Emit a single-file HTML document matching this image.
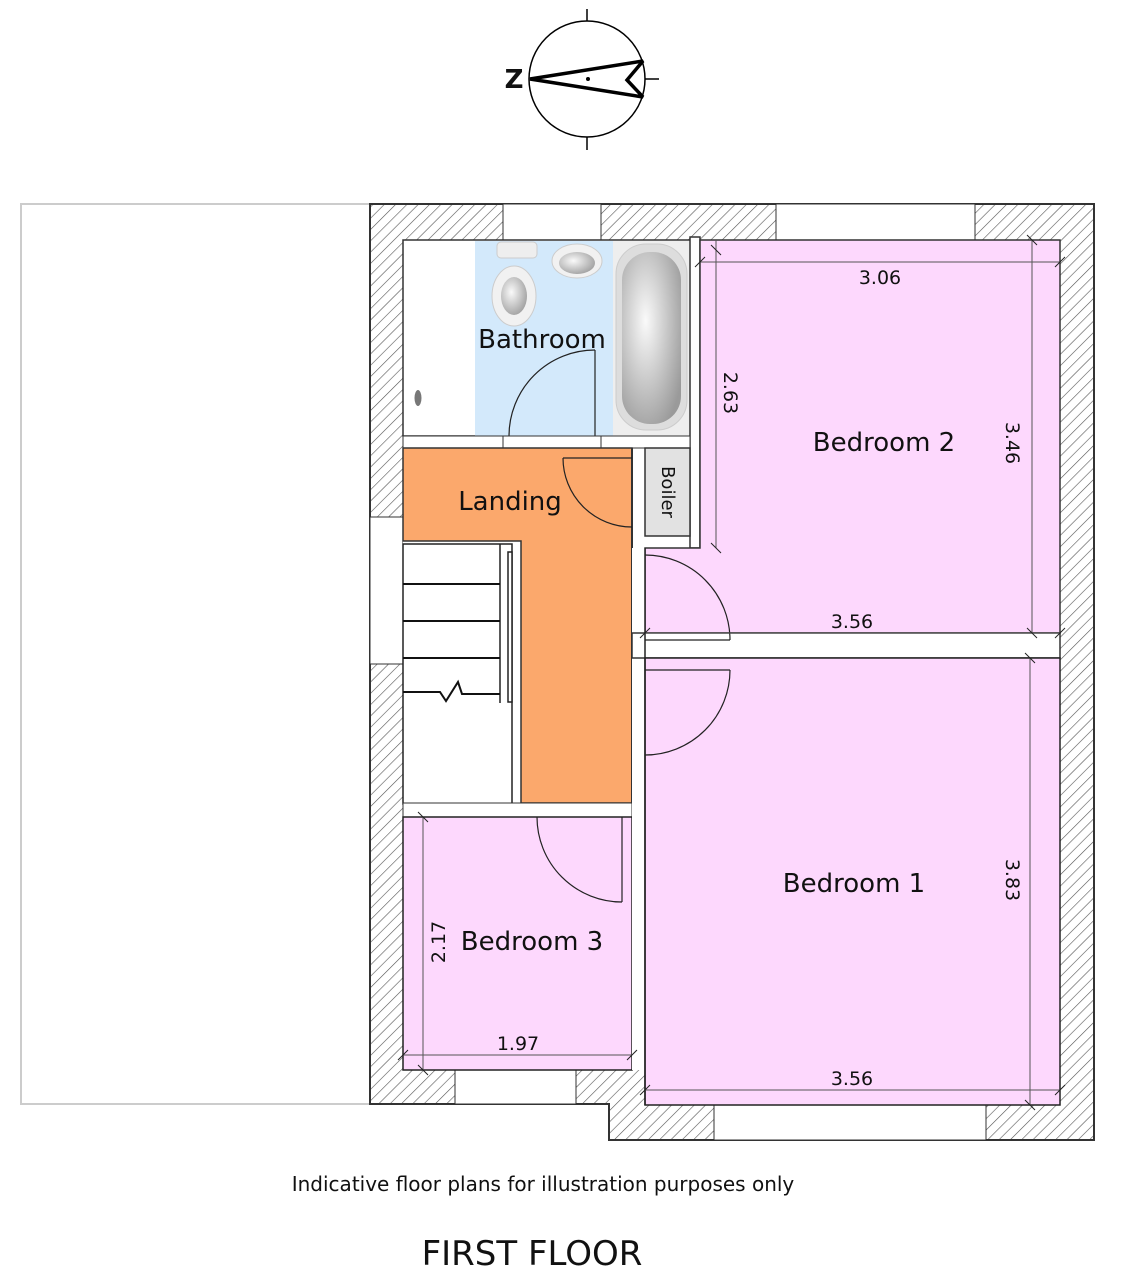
<!DOCTYPE html>
<html><head><meta charset="utf-8"><style>
html,body{margin:0;padding:0;background:#fff;}
svg{display:block;}
text{font-family:"DejaVu Sans","Liberation Sans",sans-serif;fill:#111;}
</style></head><body>
<svg width="1127" height="1280" viewBox="0 0 1127 1280" xmlns="http://www.w3.org/2000/svg">
<defs>
<pattern id="h" patternUnits="userSpaceOnUse" width="8" height="8" patternTransform="rotate(45)">
<rect width="8" height="8" fill="#fff"/><line x1="0" y1="0" x2="0" y2="8" stroke="#555" stroke-width="1.2"/>
</pattern>
<radialGradient id="bath" cx="0.4" cy="0.4" r="0.7"><stop offset="0" stop-color="#fafafa"/><stop offset="1" stop-color="#9a9a9a"/></radialGradient>
</defs>

<!-- compass -->
<circle cx="587" cy="79" r="58" fill="none" stroke="#000" stroke-width="1.5"/>
<line x1="587" y1="9" x2="587" y2="21" stroke="#000" stroke-width="1.5"/>
<line x1="587" y1="137" x2="587" y2="150" stroke="#000" stroke-width="1.5"/>
<line x1="645" y1="79" x2="659" y2="79" stroke="#000" stroke-width="1.5"/>
<polygon points="530,79 643,61 627,80 643,97" fill="none" stroke="#000" stroke-width="3.5" stroke-linejoin="miter" stroke-miterlimit="2"/>
<circle cx="588" cy="79" r="2" fill="#000"/>
<text x="514" y="88" font-size="26" font-weight="bold" text-anchor="middle">Z</text>

<!-- left ghost box -->
<rect x="21" y="204" width="349" height="900" fill="#fff" stroke="#ccc" stroke-width="2"/>

<!-- outer walls hatched -->
<path d="M370,204 H1094 V1140 H609 V1104 H370 Z" fill="url(#h)" stroke="#333" stroke-width="2"/>
<rect x="503" y="204" width="98" height="36" fill="#fff" stroke="#333" stroke-width="1"/>
<rect x="776" y="204" width="199" height="36" fill="#fff" stroke="#333" stroke-width="1"/>
<rect x="370" y="517" width="33" height="147" fill="#fff" stroke="#333" stroke-width="1"/>
<rect x="455" y="1070" width="121" height="34" fill="#fff" stroke="#333" stroke-width="1"/>
<rect x="714" y="1105" width="272" height="35" fill="#fff" stroke="#333" stroke-width="1"/>

<rect x="403" y="240" width="657" height="830" fill="#fff"/>
<rect x="645" y="1070" width="415" height="35" fill="#fff"/>

<!-- bathroom -->
<rect x="403" y="240" width="287" height="196" fill="#fff" stroke="#333" stroke-width="1.5"/>
<rect x="475" y="241" width="138" height="195" fill="#d3e9fb"/>
<rect x="613" y="241" width="77" height="195" fill="#eeeeee"/>
<rect x="406" y="243" width="68" height="190" fill="#fff"/>
<ellipse cx="418" cy="398" rx="3.5" ry="8" fill="#777"/>
<rect x="497" y="242" width="40" height="16" rx="4" fill="#eee" stroke="#ccc"/>
<ellipse cx="514" cy="296" rx="22" ry="30" fill="#f1f1f1" stroke="#ccc"/>
<ellipse cx="514" cy="296" rx="13" ry="19" fill="url(#bath)"/>
<ellipse cx="577" cy="261" rx="25" ry="17" fill="#f1f1f1" stroke="#ccc"/>
<ellipse cx="577" cy="263" rx="18" ry="11" fill="url(#bath)"/>
<rect x="616" y="244" width="71" height="186" rx="30" fill="#ddd" stroke="#ccc"/>
<rect x="622" y="252" width="59" height="172" rx="28" fill="url(#bath)"/>
<line x1="595" y1="436" x2="595" y2="350" stroke="#222" stroke-width="1.2"/>
<path d="M595,350 A86,86 0 0 0 509,436" fill="none" stroke="#222" stroke-width="1.2"/>

<rect x="690" y="237" width="10" height="311" fill="#fff" stroke="#333" stroke-width="1.5"/>
<rect x="403" y="436" width="287" height="12" fill="#fff" stroke="#333" stroke-width="1"/>
<line x1="503" y1="436" x2="503" y2="448" stroke="#333"/><line x1="601" y1="436" x2="601" y2="448" stroke="#333"/>

<!-- bedroom 2 -->
<path d="M700,240 H1060 V633 H645 V548 H700 Z" fill="#fdd8fd" stroke="#333" stroke-width="1.5"/>
<rect x="645" y="448" width="45" height="88" fill="#e2e2e2" stroke="#333" stroke-width="1.5"/>
<text x="667" y="492" font-size="18" text-anchor="middle" transform="rotate(90 667 492)" dominant-baseline="middle">Boiler</text>

<!-- landing -->
<path d="M403,448 H632 V803 H521 V541 H403 Z" fill="#fba86c" stroke="#333" stroke-width="1.5"/>
<line x1="632" y1="448" x2="632" y2="803" stroke="#333" stroke-width="2"/>
<path d="M563,458 H632" fill="none" stroke="#222" stroke-width="1.2"/>
<path d="M563,458 A69,69 0 0 0 632,527" fill="none" stroke="#222" stroke-width="1.2"/>

<!-- stairs -->
<rect x="403" y="544" width="109" height="260" fill="#fff" stroke="#222" stroke-width="1.5"/>
<line x1="500" y1="544" x2="500" y2="703" stroke="#222" stroke-width="1.5"/>
<line x1="403" y1="584" x2="500" y2="584" stroke="#111" stroke-width="2"/>
<line x1="403" y1="621" x2="500" y2="621" stroke="#111" stroke-width="2"/>
<line x1="403" y1="658" x2="500" y2="658" stroke="#111" stroke-width="2"/>
<polyline points="403,692 440,692 446,701 458,682 462,694 500,694" fill="none" stroke="#111" stroke-width="2"/>
<rect x="508" y="552" width="4" height="150" fill="#fff" stroke="#222" stroke-width="1.5"/>

<rect x="403" y="803" width="229" height="14" fill="#fff" stroke="#333" stroke-width="1"/>

<!-- bedroom 3 -->
<rect x="403" y="817" width="229" height="253" fill="#fdd8fd" stroke="#222" stroke-width="1.5"/>
<line x1="622" y1="817" x2="622" y2="902" stroke="#222" stroke-width="1.2"/>
<path d="M537,817 A85,85 0 0 0 622,902" fill="none" stroke="#222" stroke-width="1.2"/>

<rect x="632" y="548" width="13" height="522" fill="#fff"/>
<rect x="632" y="633" width="428" height="25" fill="#fff" stroke="#333" stroke-width="1.5"/>

<!-- bedroom 1 -->
<rect x="645" y="658" width="415" height="447" fill="#fdd8fd" stroke="#222" stroke-width="1.5"/>
<line x1="645" y1="548" x2="645" y2="1105" stroke="#222" stroke-width="1.5"/>
<line x1="645" y1="640" x2="730" y2="640" stroke="#222" stroke-width="1.2"/>
<path d="M730,640 A85,85 0 0 0 645,555" fill="none" stroke="#222" stroke-width="1.2"/>
<line x1="645" y1="670" x2="730" y2="670" stroke="#222" stroke-width="1.2"/>
<path d="M730,670 A85,85 0 0 1 645,755" fill="none" stroke="#222" stroke-width="1.2"/>

<!-- dimension lines -->
<g stroke="#555" stroke-width="1">
<line x1="700" y1="262" x2="1060" y2="262"/>
<line x1="716" y1="240" x2="716" y2="548"/>
<line x1="1032" y1="240" x2="1032" y2="633"/>
<line x1="645" y1="633" x2="1060" y2="633"/>
<line x1="1030" y1="658" x2="1030" y2="1105"/>
<line x1="645" y1="1090" x2="1060" y2="1090"/>
<line x1="403" y1="1055" x2="632" y2="1055"/>
<line x1="423" y1="817" x2="423" y2="1070"/>
</g>
<g stroke="#222" stroke-width="1">
<line x1="695" y1="267" x2="705" y2="257"/><line x1="1055" y1="267" x2="1065" y2="257"/>
<line x1="711" y1="245" x2="721" y2="255"/><line x1="711" y1="543" x2="721" y2="553"/>
<line x1="1027" y1="235" x2="1037" y2="245"/><line x1="1027" y1="628" x2="1037" y2="638"/>
<line x1="640" y1="638" x2="650" y2="628"/><line x1="1055" y1="638" x2="1065" y2="628"/>
<line x1="1025" y1="653" x2="1035" y2="663"/><line x1="1025" y1="1100" x2="1035" y2="1110"/>
<line x1="640" y1="1095" x2="650" y2="1085"/><line x1="1055" y1="1095" x2="1065" y2="1085"/>
<line x1="398" y1="1060" x2="408" y2="1050"/><line x1="627" y1="1060" x2="637" y2="1050"/>
<line x1="418" y1="812" x2="428" y2="822"/><line x1="418" y1="1065" x2="428" y2="1075"/>
</g>
<g font-size="19" text-anchor="middle">
<text x="880" y="284">3.06</text>
<text x="852" y="628">3.56</text>
<text x="852" y="1085">3.56</text>
<text x="518" y="1050">1.97</text>
<text x="0" y="0" transform="translate(724,393) rotate(90)">2.63</text>
<text x="0" y="0" transform="translate(1006,443) rotate(90)">3.46</text>
<text x="0" y="0" transform="translate(1006,880) rotate(90)">3.83</text>
<text x="0" y="0" transform="translate(445,942) rotate(-90)">2.17</text>
</g>
<g font-size="26" text-anchor="middle">
<text x="542" y="348">Bathroom</text>
<text x="510" y="510">Landing</text>
<text x="884" y="451">Bedroom 2</text>
<text x="854" y="892">Bedroom 1</text>
<text x="532" y="950">Bedroom 3</text>
</g>
<text x="543" y="1191" font-size="20" text-anchor="middle">Indicative floor plans for illustration purposes only</text>
<text x="532" y="1265" font-size="34" text-anchor="middle">FIRST FLOOR</text>
</svg>
</body></html>
